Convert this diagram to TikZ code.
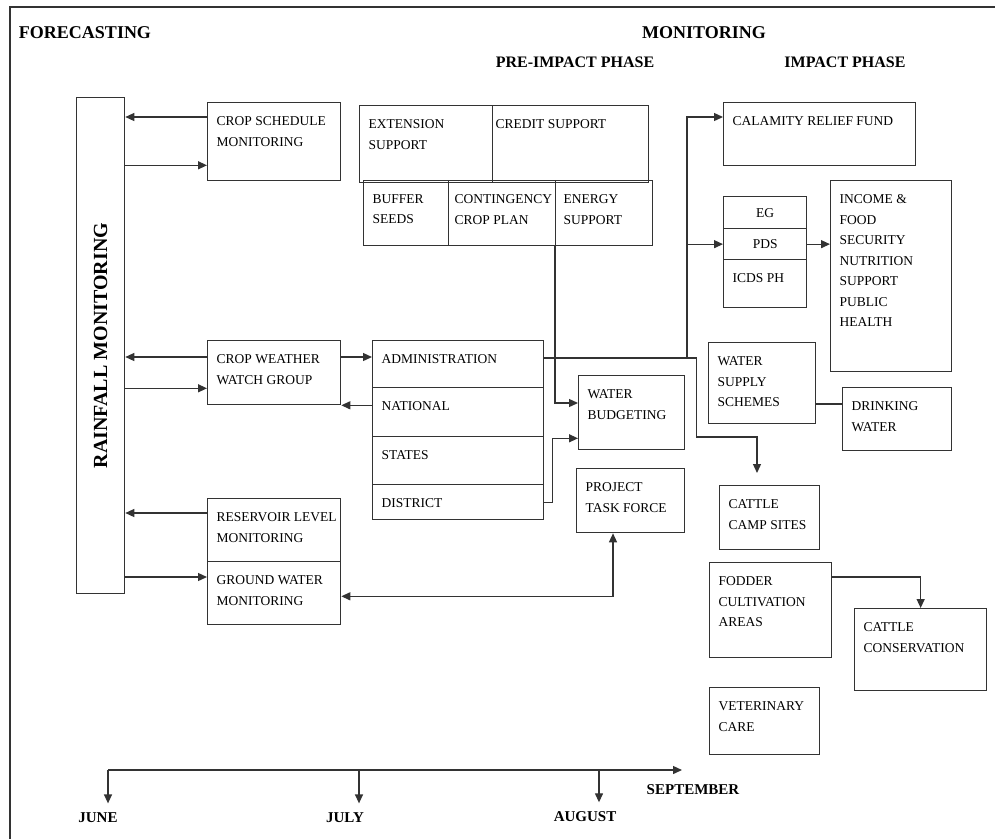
\documentclass[tikz,border=0pt]{standalone}
\usepackage{fontspec}
\setmainfont{Liberation Serif}
\usetikzlibrary{arrows.meta}

\begin{document}
\begin{tikzpicture}[x=1pt, y=-1pt, line width=1.3pt, draw=black!80,
	box/.style 2 args = {draw, anchor=north west, inner sep=0pt, minimum width=#1, minimum height=#2, font=\fontsize{13.5}{20.5}\selectfont},
	txt/.style = {anchor=north west, align=left, inner xsep=9pt, inner ysep=14pt, font=\fontsize{13.5}{20.5}\selectfont},
	head/.style = {font=\fontsize{18}{21}\selectfont\bfseries},
	phase/.style = {font=\fontsize{16}{19}\selectfont\bfseries},
	month/.style = {font=\fontsize{15}{18}\selectfont\bfseries, inner sep=9pt},
	arr/.style = {-{Triangle[length=9pt, width=8pt]}},
	arrs/.style = {{Triangle[length=9pt, width=8pt]}-{Triangle[length=9pt, width=8pt]}}]
	
	% Page frame
	\useasboundingbox (0,0) rectangle (995,839);
	\draw (10,839) -- (10,7) -- (995,7);
	
	% Headings
	\node[head] (fore) at (85,33) {FORECASTING};
	\node[head] (moni) at (704,33) {MONITORING};
	\node[phase] (pre) at (575,62) {PRE-IMPACT PHASE};
	\node[phase] (imp) at (845,62) {IMPACT PHASE};
	
	% Forecasting column
	\node[box={48}{496}] (rain) at (76,97) {\rotatebox{90}{\fontsize{20}{22}\selectfont\bfseries RAINFALL MONITORING}};
	\node[box={133}{78}, label={[txt]north west:CROP SCHEDULE\\MONITORING}] (cropsch) at (207,102) {};
	\node[box={133}{64}, label={[txt]north west:CROP WEATHER\\WATCH GROUP}] (cwwg) at (207,340) {};
	\node[box={133}{63}, label={[txt]north west:RESERVOIR LEVEL\\MONITORING}] (reserv) at (207,498) {};
	\node[box={133}{63}, label={[txt]north west:GROUND WATER\\MONITORING}] (ground) at (207,561) {};
	
	% Pre-impact phase
	\node[box={133}{77}, label={[txt]north west:EXTENSION\\SUPPORT}] (ext) at (359,105) {};
	\node[box={156}{77}, label={[txt, inner xsep=3pt]north west:CREDIT SUPPORT}] (credit) at (492,105) {};
	\node[box={85}{65}, label={[txt]north west:BUFFER\\SEEDS}] (buffer) at (363,180) {};
	\node[box={107}{65}, label={[txt, inner xsep=6pt]north west:CONTINGENCY\\CROP PLAN}] (contin) at (448,180) {};
	\node[box={97}{65}, label={[txt, inner xsep=8pt]north west:ENERGY\\SUPPORT}] (energy) at (555,180) {};
	
	\node[box={171}{47}, label={[txt]north west:ADMINISTRATION}] (admin) at (372,340) {};
	\node[box={171}{49}, label={[txt]north west:NATIONAL}] (natl) at (372,387) {};
	\node[box={171}{48}, label={[txt]north west:STATES}] (states) at (372,436) {};
	\node[box={171}{35}, label={[txt]north west:DISTRICT}] (district) at (372,484) {};
	
	\node[box={106}{74}, label={[txt]north west:WATER\\BUDGETING}] (wbudget) at (578,375) {};
	\node[box={108}{64}, label={[txt]north west:PROJECT\\TASK FORCE}] (ptf) at (576,468) {};
	
	% Impact phase
	\node[box={192}{63}, label={[txt]north west:CALAMITY RELIEF FUND}] (calam) at (723,102) {};
	\node[box={83}{32}] (eg) at (723,196) {EG};
	\node[box={83}{31}] (pds) at (723,228) {PDS};
	\node[box={83}{48}, label={[txt]north west:ICDS PH}] (icds) at (723,259) {};
	\node[box={121}{191}, label={[txt]north west:INCOME \&\\FOOD\\SECURITY\\NUTRITION\\SUPPORT\\PUBLIC\\HEALTH}] (income) at (830,180) {};
	\node[box={107}{81}, label={[txt]north west:WATER\\SUPPLY\\SCHEMES}] (wss) at (708,342) {};
	\node[box={109}{63}, label={[txt]north west:DRINKING\\WATER}] (drink) at (842,387) {};
	\node[box={100}{64}, label={[txt]north west:CATTLE\\CAMP SITES}] (camp) at (719,485) {};
	\node[box={122}{95}, label={[txt]north west:FODDER\\CULTIVATION\\AREAS}] (fodder) at (709,562) {};
	\node[box={132}{82}, label={[txt]north west:CATTLE\\CONSERVATION}] (cons) at (854,608) {};
	\node[box={110}{67}, label={[txt]north west:VETERINARY\\CARE}] (vet) at (709,687) {};
	
	% Links with rainfall monitoring
	\draw[arr] ([yshift=-15pt]cropsch.north west) coordinate (c1) -- (c1 -| rain.east);
	\draw[arr] ([yshift=16pt]cropsch.south west) coordinate (c2) ++(0,0) (c2 -| rain.east) -- (c2);
	\draw[arr] ([yshift=-17pt]cwwg.north west) coordinate (c3) -- (c3 -| rain.east);
	\draw[arr] ([yshift=17pt]cwwg.south west) coordinate (c4) ++(0,0) (c4 -| rain.east) -- (c4);
	\draw[arr] ([yshift=-15pt]reserv.north west) coordinate (c5) -- (c5 -| rain.east);
	\draw[arr] ([yshift=-16pt]ground.north west) coordinate (c6) ++(0,0) (c6 -| rain.east) -- (c6);
	
	% Crop weather watch group and administration
	\draw[arr] (c3 -| cwwg.east) -- (c3 -| admin.west);
	\draw[arr] (cwwg.south east -| natl.west) -- (cwwg.south east);
	
	% Water budgeting inputs
	\draw[arr] (energy.south west) |- ([yshift=-28pt]wbudget.north west);
	\draw[arr] (district.east) -- ++(8,0) |- ([yshift=12pt]wbudget.south west);
	
	% Administration to impact phase
	\draw ([yshift=-18pt]admin.north east) coordinate (adm);
	\draw[arr] (adm) -- ++(152,0) -- ++(0,79) -| ([xshift=38pt, yshift=12pt]camp.north west);
	\draw[arr] (adm -| pds.west) ++(-36,0) |- ([yshift=-15pt]calam.north west);
	\draw[arr] (adm -| pds.west) ++(-36,0) |- (pds.west);
	\draw[arr] (pds.east) -- (pds.east -| income.west);
	
	% Impact phase links
	\draw ([yshift=-17pt]drink.north west) coordinate (d1) -- (d1 -| wss.east);
	\draw[arr] ([yshift=-15pt]fodder.north east) -| (cons.north);
	\draw[arrs] ([yshift=29pt]ground.south east) -| ([xshift=37pt]ptf.south west);
	
	% Time line
	\coordinate (t0) at (108,770);
	\coordinate (t1) at (359,770);
	\coordinate (t2) at (599,770);
	\coordinate (tend) at (682,770);
	\node[month] (june) at (98,818) {JUNE};
	\node[month] (july) at (345,818) {JULY};
	\node[month] (aug) at (585,817) {AUGUST};
	\node[month, inner sep=2pt] (sept) at (693,790) {SEPTEMBER};
	\draw[arr] (t0) -- (tend);
	\draw[arr] (t0) -- (t0 |- june.north);
	\draw[arr] (t1) -- (t1 |- july.north);
	\draw[arr] (t2) -- (t2 |- aug.north);
	
\end{tikzpicture}
\end{document}
